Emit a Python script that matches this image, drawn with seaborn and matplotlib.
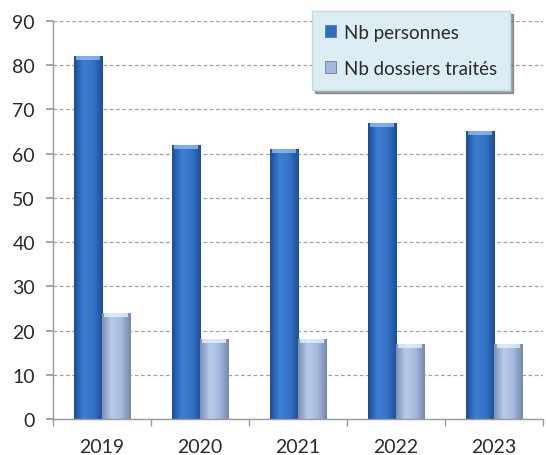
import matplotlib
matplotlib.use("Agg")
import matplotlib.pyplot as plt
from matplotlib.colors import LinearSegmentedColormap
import numpy as np
import pandas as pd
import seaborn as sns

# data
years = ["2019", "2020", "2021", "2022", "2023"]
nb_personnes = [82, 62, 61, 67, 65]
nb_dossiers = [24, 18, 18, 17, 17]
series_names = ["Nb personnes", "Nb dossiers traités"]

df = pd.DataFrame({
    "annee": years * 2,
    "valeur": nb_personnes + nb_dossiers,
    "serie": [series_names[0]] * len(years) + [series_names[1]] * len(years),
})

sns.set_theme(style="white")
plt.rcParams['font.family'] = ['Lato', 'DejaVu Sans']

fig = plt.figure(figsize=(5.46, 4.56), dpi=100)
ax = fig.add_axes([0.097, 0.079, 0.898, 0.873])

colors = ["#2f6cc0", "#a3b7dc"]
sns.barplot(data=df, x="annee", y="valeur", hue="serie", palette=colors,
            width=0.58, ax=ax, legend=False, saturation=1)

# gradient fill on each bar (dark edges, light centre)
grads = [
    LinearSegmentedColormap.from_list("b", ["#1d4d96", "#3b7fd3", "#3674c8", "#1e4e98"]),
    LinearSegmentedColormap.from_list("l", ["#7d8fb3", "#b9cbea", "#a6badf", "#7588ad"]),
]
caps = ["#8fbdf0", "#e6f0fb"]
g = np.linspace(0, 1, 64).reshape(1, -1)
nyear = len(years)
for i, p in enumerate(list(ax.patches)):
    k = 0 if i < nyear else 1
    x0, y0 = p.get_x(), p.get_y()
    w, h = p.get_width(), p.get_height()
    im = ax.imshow(g, cmap=grads[k], aspect="auto", extent=[x0, x0 + w, y0, y0 + h],
                   zorder=p.get_zorder() + 0.1)
    im.set_clip_path(p)
    p.set_edgecolor("none")
    # light cap at the top of the bar
    ax.fill_between([x0 + w * 0.08, x0 + w * 0.92], y0 + h - 0.9, y0 + h,
                    color=caps[k], alpha=0.8, linewidth=0, zorder=p.get_zorder() + 0.2)

ax.set_xlim(-0.5, nyear - 0.5)
ax.set_ylim(0, 90)
ax.set_yticks(range(0, 91, 10))
ax.set_xlabel("")
ax.set_ylabel("")

ax.yaxis.grid(True, linestyle=(0, (3, 2)), color="#a0a0a0", linewidth=0.9)
ax.set_axisbelow(True)
for s in ["top", "right"]:
    ax.spines[s].set_visible(False)
for s in ["left", "bottom"]:
    ax.spines[s].set_color("#9a9a9a")
    ax.spines[s].set_linewidth(1.0)

ax.set_xticks(np.arange(-0.5, nyear, 1.0), minor=True)
ax.tick_params(axis="x", which="major", length=0, labelsize=14, pad=14, colors="#2a2a2a")
ax.tick_params(axis="x", which="minor", length=5, color="#9a9a9a", direction="out", bottom=True)
ax.tick_params(axis="y", length=5, color="#9a9a9a", direction="out", left=True,
               labelsize=14, pad=8, colors="#2a2a2a")

handles = [plt.Rectangle((0, 0), 1, 1, facecolor=c, edgecolor="#5a6f90", linewidth=0.5)
           for c in ["#2f6cc0", "#a3b7dc"]]
leg = fig.legend(handles, series_names, loc="upper right",
                 bbox_to_anchor=(0.934, 0.974), fontsize=13.5,
                 frameon=True, shadow=True, fancybox=False,
                 handlelength=0.6, handleheight=0.6, handletextpad=0.4,
                 labelspacing=1.0, borderpad=0.7, borderaxespad=0)
leg.get_frame().set_facecolor("#dcedf3")
leg.get_frame().set_edgecolor("#c4d9e2")
for t in leg.get_texts():
    t.set_color("#2a2a2a")

fig.savefig("out.png", dpi=100)
